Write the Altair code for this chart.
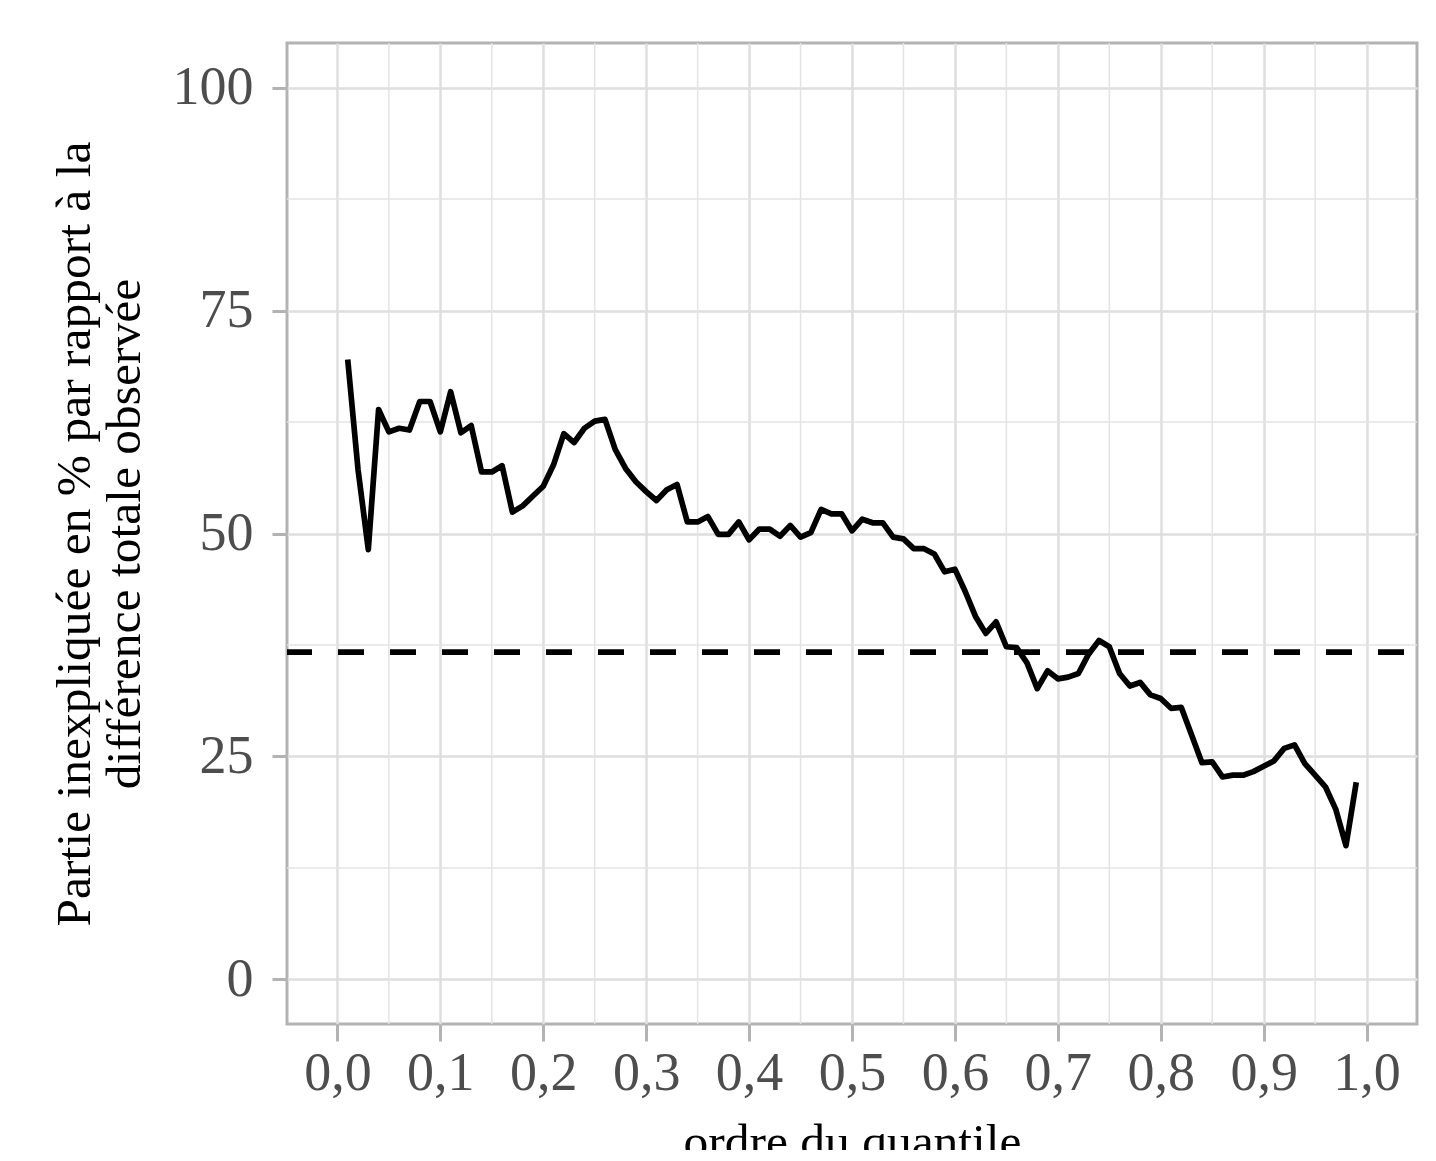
import altair as alt
import pandas as pd

quantile = [round(0.01 * i, 2) for i in range(1, 100)]
part_inexpliquee = [
    69.5, 57.2, 48.2, 63.9, 61.4, 61.8, 61.6, 64.8, 64.8, 61.4,
    65.9, 61.3, 62.1, 56.9, 56.9, 57.6, 52.4, 53.1, 54.2, 55.3,
    57.7, 61.2, 60.2, 61.8, 62.6, 62.8, 59.4, 57.3, 55.8, 54.7,
    53.7, 54.9, 55.5, 51.3, 51.3, 51.9, 49.9, 49.9, 51.3, 49.3,
    50.5, 50.5, 49.7, 50.9, 49.6, 50.1, 52.7, 52.2, 52.2, 50.3,
    51.6, 51.2, 51.2, 49.6, 49.4, 48.3, 48.3, 47.7, 45.7, 46.0,
    43.5, 40.7, 38.8, 40.1, 37.3, 37.2, 35.5, 32.6, 34.6, 33.7,
    33.9, 34.3, 36.5, 38.0, 37.3, 34.3, 32.9, 33.3, 31.9, 31.5,
    30.4, 30.5, 27.4, 24.3, 24.4, 22.7, 22.9, 22.9, 23.3, 23.9,
    24.5, 25.9, 26.3, 24.2, 22.9, 21.6, 19.1, 15.0, 22.1,
]
moyenne = [36.7]
x_major = [0.0, 0.1, 0.2, 0.3, 0.4, 0.5, 0.6, 0.7, 0.8, 0.9, 1.0]
x_minor = [0.05, 0.15, 0.25, 0.35, 0.45, 0.55, 0.65, 0.75, 0.85, 0.95]
y_major = [0, 25, 50, 75, 100]
y_minor = [12.5, 37.5, 62.5, 87.5]

FONT = "Liberation Serif"
W, H = 1130, 981

df = pd.DataFrame({"q": quantile, "v": part_inexpliquee})
xscale = alt.Scale(domain=[-0.049, 1.049], nice=False, zero=False)
yscale = alt.Scale(domain=[-5, 105], nice=False, zero=False)

xaxis = alt.Axis(
    values=x_major, labelExpr="replace(format(datum.value, '.1f'), '.', ',')",
    title="ordre du quantile", titleX=W / 2, titleY=94, titleBaseline="top",
    titleAlign="center", domain=False, tickSize=17, labelPadding=5,
)
yaxis = alt.Axis(
    values=y_major, format="d",
    title=["Partie inexpliquée en % par rapport à la", "différence totale observée"],
    titleAngle=270, titleX=-198, titleY=H / 2, titleBaseline="alphabetic",
    titleAlign="center", titleLineHeight=50, domain=False, tickSize=15,
    labelPadding=19,
)

minor_x = alt.Chart(pd.DataFrame({"x": x_minor})).mark_rule(
    color="#e3e3e3", strokeWidth=1.5
).encode(x=alt.X("x:Q", scale=xscale, axis=xaxis))
minor_y = alt.Chart(pd.DataFrame({"y": y_minor})).mark_rule(
    color="#e3e3e3", strokeWidth=1.5
).encode(y=alt.Y("y:Q", scale=yscale, axis=yaxis))

line = alt.Chart(df).mark_line(color="black", strokeWidth=5.7, strokeJoin="round").encode(
    x=alt.X("q:Q", scale=xscale, axis=xaxis),
    y=alt.Y("v:Q", scale=yscale, axis=yaxis),
)
hline = alt.Chart(pd.DataFrame({"y": moyenne})).mark_rule(
    color="black", strokeWidth=5.7, strokeDash=[26, 26], strokeDashOffset=39
).encode(y=alt.Y("y:Q", scale=yscale, axis=yaxis))

chart = alt.layer(minor_x, minor_y, line, hline).properties(
    width=W, height=H,
    background="white",
    autosize=alt.AutoSizeParams(type="none"),
    padding={"left": 279, "top": 35, "right": 8, "bottom": 126},
    title=alt.TitleParams(
        text="différence totale observée", anchor="start", fontSize=49.5,
        font=FONT, fontWeight="normal", color="black", baseline="alphabetic",
        offset=24, frame="bounds",
    ),
).configure_view(
    stroke="#b3b3b3", strokeWidth=3
).configure_axis(
    labelFont=FONT, labelFontSize=54, labelColor="#4d4d4d",
    titleFont=FONT, titleFontSize=49.5, titleColor="black", titleFontWeight="normal",
    gridColor="#dedede", gridWidth=2.5, tickColor="#b3b3b3", tickWidth=3,
)

chart.save("out.html", embed_options={"renderer": "svg", "actions": False})
